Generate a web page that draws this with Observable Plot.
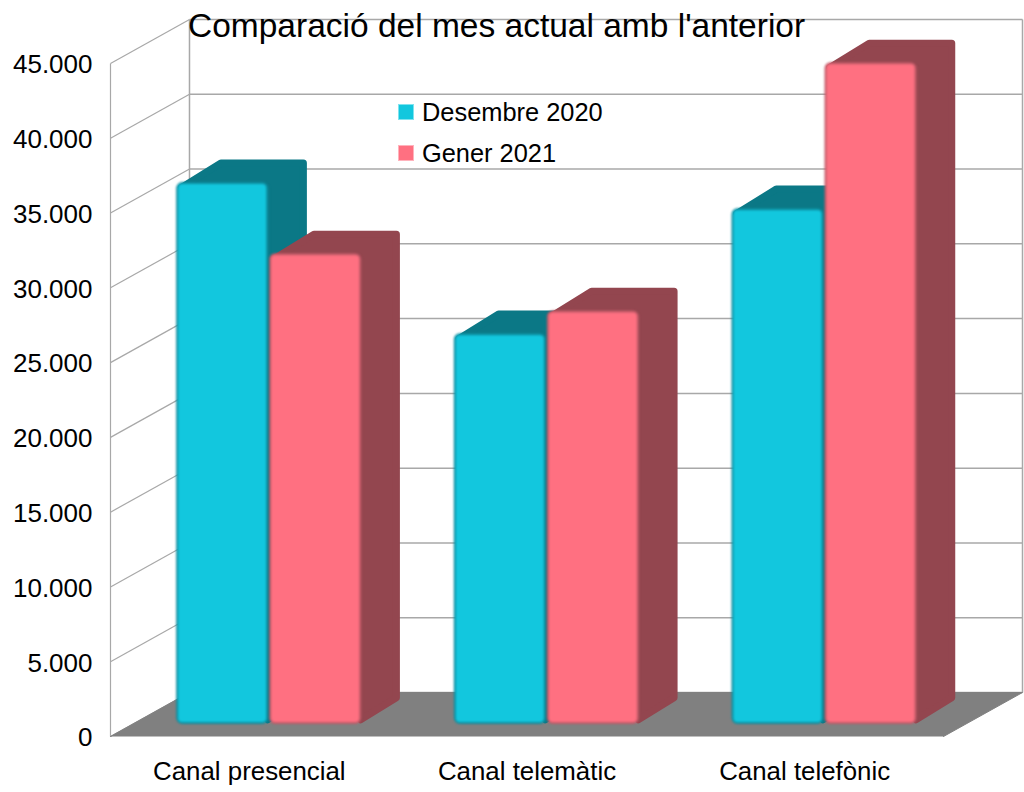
<!DOCTYPE html>
<html lang="ca">
<head>
<meta charset="utf-8">
<script src="https://cdn.jsdelivr.net/npm/d3@7"></script>
<script src="https://cdn.jsdelivr.net/npm/@observablehq/plot@0.6"></script>
<style>
  html, body { margin: 0; padding: 0; background: #fff; }
  #chart { position: relative; width: 1024px; height: 792px; font-family: "Liberation Sans", sans-serif; color: #000; overflow: hidden; }
  #chart svg { display: block; }
  #title { position: absolute; left: 188px; top: 6px; font-size: 33.5px; line-height: 40px; white-space: nowrap; }
  .legend-item { position: absolute; left: 398px; display: flex; align-items: center; font-size: 25.4px; line-height: 30px; height: 30px; white-space: nowrap; }
  .swatch { width: 14px; height: 14px; margin-right: 8px; border: 1px solid; box-sizing: content-box; }
  .front-face { filter: blur(0.8px); }
</style>
</head>
<body>
<div id="chart"></div>
<script>
const titleText = "Comparació del mes actual amb l'anterior";
const categories = ["Canal presencial", "Canal telemàtic", "Canal telefònic"];
const seriesNames = ["Desembre 2020", "Gener 2021"];
const desembre2020 = [36100, 26000, 34360];
const gener2021 = [31340, 27520, 44110];
const yTicks = [0, 5000, 10000, 15000, 20000, 25000, 30000, 35000, 40000, 45000];

const frontColors = ["#12c7de", "#ff7081"];
const edgeColors = ["#0d8ea0", "#c25a68"];
const sideColors = ["#0b7886", "#93464f"];
const swatchEdges = ["#7fe3ef", "#ffb3bc"];
const gridColor = "#a8a8a8";

// 3D projection, expressed in the scales' own units
const depthX = 0.2845, depthY = 2942;
const nearDepth = 0.295, farDepth = 0.795;
const barStart = 0.158, barWidth = 0.324, barGap = 0.011;
const cornerX = 0.0135, cornerY = 250, cornerTop = 90; // insets that keep the rounded outline inside the bar's silhouette

const seriesValues = [desembre2020, gener2021];
const bars = seriesValues.map((values, s) => values.map((value, c) => {
  const x0 = c + barStart + s * (barWidth + barGap) + nearDepth * depthX;
  return {series: s, cat: c, value, x0, x1: x0 + barWidth,
          y0: nearDepth * depthY, y1: value + nearDepth * depthY};
}));

const spanDepth = (farDepth - nearDepth);
const silhouette = (b) => {
  const dx = spanDepth * depthX, dy = spanDepth * depthY;
  return [
    [b.x0 + cornerX, b.y1 - cornerY], [b.x0 + dx + cornerX, b.y1 + dy - cornerTop],
    [b.x1 + dx - cornerX, b.y1 + dy - cornerTop], [b.x1 + dx - cornerX, b.y0 + dy + cornerY],
    [b.x1, b.y0 + cornerY], [b.x1, b.y1 - cornerY]
  ].map(([x, y]) => ({x, y, id: `${b.series}-${b.cat}`}));
};

const floor = [[0, 0], [depthX, depthY], [3 + depthX, depthY], [3, 0]].map(([x, y]) => ({x, y}));

const barMarks = seriesValues.flatMap((_, s) => [
  Plot.line(bars[s].flatMap(silhouette), {
    x: "x", y: "y", z: "id", fill: sideColors[s], stroke: sideColors[s],
    strokeWidth: 7, strokeLinejoin: "round"
  }),
  Plot.rect(bars[s], {
    x1: "x0", x2: "x1", y1: "y0", y2: "y1", fill: frontColors[s],
    stroke: edgeColors[s], strokeWidth: 2, rx: 5, className: "front-face"
  })
]);

const numberFormat = (d) => d3.format(",")(d).replace(",", ".");

const plot = Plot.plot({
  width: 1024,
  height: 792,
  marginLeft: 110,
  marginRight: 2,
  marginTop: 19,
  marginBottom: 56,
  style: {fontFamily: "Liberation Sans", background: "#fff", color: "#000"},
  x: {type: "linear", domain: [0, 3 + depthX]},
  y: {type: "linear", domain: [0, 45000 + depthY]},
  marks: [
    // left wall
    Plot.link(yTicks, {x1: 0, x2: depthX, y1: (d) => d, y2: (d) => d + depthY, stroke: gridColor, strokeWidth: 1.2, strokeOpacity: 1}),
    Plot.link([0], {x1: 0, x2: 0, y1: 0, y2: 45000, stroke: gridColor, strokeWidth: 1.2, strokeOpacity: 1}),
    // back wall
    Plot.link(yTicks, {x1: depthX, x2: 3 + depthX, y1: (d) => d + depthY, y2: (d) => d + depthY, stroke: gridColor, strokeWidth: 1.5, strokeOpacity: 1}),
    Plot.link([depthX, 3 + depthX], {x1: (d) => d, x2: (d) => d, y1: depthY, y2: 45000 + depthY, stroke: gridColor, strokeWidth: 1.5, strokeOpacity: 1}),
    // floor
    Plot.line(floor, {x: "x", y: "y", fill: "#808080", stroke: "#808080", strokeWidth: 1}),
    ...barMarks,
    Plot.axisY(yTicks, {
      anchor: "left", label: null, tickSize: 0, tickPadding: 18, dy: 1.5,
      tickFormat: numberFormat, fontSize: 26, fill: "#000"
    }),
    Plot.axisX([0.5, 1.5, 2.5], {
      anchor: "bottom", label: null, tickSize: 0, tickPadding: 25,
      tickFormat: (d) => categories[Math.floor(d)], fontSize: 25.85, fill: "#000"
    })
  ]
});

const chart = document.getElementById("chart");
chart.appendChild(plot);

const title = document.createElement("div");
title.id = "title";
title.textContent = titleText;
chart.appendChild(title);

seriesNames.forEach((name, i) => {
  const item = document.createElement("div");
  item.className = "legend-item";
  item.style.top = (97 + i * 41) + "px";
  const swatch = document.createElement("span");
  swatch.className = "swatch";
  swatch.style.background = frontColors[i];
  swatch.style.borderColor = swatchEdges[i];
  const label = document.createElement("span");
  label.textContent = name;
  item.append(swatch, label);
  chart.appendChild(item);
});
</script>
</body>
</html>
